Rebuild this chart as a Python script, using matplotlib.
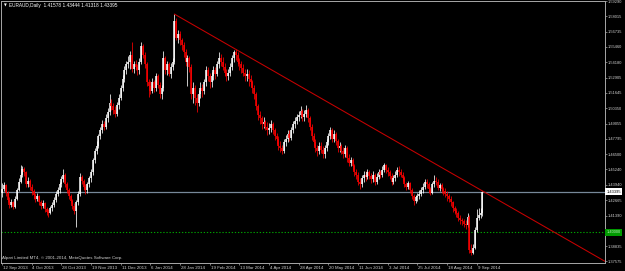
import matplotlib.pyplot as plt
import numpy as np
from matplotlib.transforms import ScaledTranslation

plt.rcParams["font.family"] = ["Liberation Sans Narrow", "Liberation Sans", "DejaVu Sans"]

# Chart header / footer text
symbol_line = "EURAUD,Daily  1.41578 1.43444 1.41318 1.43395"
copyright_line = "Alpari Limited MT4, \u00a9 2001-2014, MetaQuotes Software Corp."

# Time axis labels, one every 16 daily bars
date_labels = [
    "12 Sep 2013", "4 Oct 2013", "28 Oct 2013", "19 Nov 2013", "11 Dec 2013",
    "6 Jan 2014", "28 Jan 2014", "19 Feb 2014", "13 Mar 2014", "4 Apr 2014",
    "28 Apr 2014", "20 May 2014", "11 Jun 2014", "3 Jul 2014", "25 Jul 2014",
    "18 Aug 2014", "9 Sep 2014",
]
bars_per_label = 16

# Price scale labels on the right
price_ticks = [
    1.37575, 1.38835, 1.41390, 1.42665, 1.43940, 1.45240, 1.46500, 1.47795,
    1.49055, 1.50350, 1.51645, 1.52905, 1.54180, 1.55460, 1.56735, 1.58015,
    1.59290,
]

# Daily bars (open of each bar = previous close)
first_open = 1.4330
closes = [
    1.4360, 1.4390, 1.4330, 1.4270, 1.4230, 1.4250, 1.4210, 1.4280, 1.4350, 1.4420,
    1.4480, 1.4530, 1.4500, 1.4400, 1.4430, 1.4380, 1.4340, 1.4310, 1.4280, 1.4300,
    1.4250, 1.4220, 1.4240, 1.4190, 1.4170, 1.4160, 1.4200, 1.4230, 1.4270, 1.4320,
    1.4350, 1.4400, 1.4440, 1.4480, 1.4400, 1.4350, 1.4300, 1.4260, 1.4220, 1.4180,
    1.4250, 1.4320, 1.4460, 1.4430, 1.4380, 1.4350, 1.4400, 1.4450, 1.4500, 1.4600,
    1.4680, 1.4720, 1.4800, 1.4850, 1.4900, 1.4880, 1.4950, 1.5000, 1.5080, 1.5050,
    1.5020, 1.4990, 1.5060, 1.5120, 1.5200, 1.5280, 1.5350, 1.5400, 1.5420, 1.5480,
    1.5360, 1.5400, 1.5380, 1.5350, 1.5420, 1.5550, 1.5480, 1.5400, 1.5250, 1.5220,
    1.5180, 1.5250, 1.5200, 1.5300, 1.5230, 1.5150, 1.5200, 1.5450, 1.5350, 1.5400,
    1.5320, 1.5380, 1.5420, 1.5760, 1.5620, 1.5650, 1.5600, 1.5560, 1.5500, 1.5420,
    1.5450, 1.5380, 1.5150, 1.5200, 1.5120, 1.5080, 1.5150, 1.5200, 1.5180, 1.5250,
    1.5350, 1.5300, 1.5250, 1.5300, 1.5350, 1.5320, 1.5400, 1.5450, 1.5420, 1.5380,
    1.5330, 1.5300, 1.5330, 1.5380, 1.5450, 1.5500, 1.5480, 1.5420, 1.5400, 1.5370,
    1.5330, 1.5300, 1.5320, 1.5280, 1.5250, 1.5200, 1.5150, 1.5050, 1.4980, 1.4950,
    1.4900, 1.4920, 1.4880, 1.4850, 1.4870, 1.4900, 1.4850, 1.4800, 1.4780, 1.4720,
    1.4700, 1.4680, 1.4750, 1.4780, 1.4820, 1.4790, 1.4850, 1.4900, 1.4930, 1.4960,
    1.4980, 1.5010, 1.4960, 1.4990, 1.5020, 1.4950, 1.4880, 1.4800, 1.4750, 1.4700,
    1.4680, 1.4720, 1.4690, 1.4650, 1.4700, 1.4750, 1.4800, 1.4850, 1.4780, 1.4820,
    1.4760, 1.4700, 1.4720, 1.4680, 1.4650, 1.4700, 1.4620, 1.4580, 1.4600, 1.4550,
    1.4500, 1.4480, 1.4420, 1.4400, 1.4450, 1.4480, 1.4460, 1.4500, 1.4470, 1.4440,
    1.4480, 1.4420, 1.4460, 1.4500, 1.4480, 1.4520, 1.4560, 1.4520, 1.4500, 1.4470,
    1.4420, 1.4450, 1.4480, 1.4520, 1.4500, 1.4480, 1.4450, 1.4400, 1.4380, 1.4410,
    1.4350, 1.4300, 1.4260, 1.4290, 1.4300, 1.4320, 1.4350, 1.4380, 1.4420, 1.4400,
    1.4360, 1.4330, 1.4400, 1.4430, 1.4420, 1.4370, 1.4390, 1.4360, 1.4340, 1.4320,
    1.4300, 1.4280, 1.4250, 1.4200, 1.4180, 1.4160, 1.4120, 1.4100, 1.4090, 1.4070,
    1.4060, 1.4130, 1.3850, 1.3830, 1.3870, 1.4020, 1.4120, 1.4140, 1.41578, 1.43395,
]
highs = [
    1.4410, 1.4420, 1.4400, 1.4340, 1.4290, 1.4280, 1.4260, 1.4300, 1.4370, 1.4450,
    1.4560, 1.4550, 1.4540, 1.4510, 1.4460, 1.4440, 1.4400, 1.4360, 1.4330, 1.4330,
    1.4310, 1.4270, 1.4270, 1.4250, 1.4210, 1.4190, 1.4220, 1.4250, 1.4290, 1.4340,
    1.4380, 1.4420, 1.4470, 1.4530, 1.4490, 1.4420, 1.4370, 1.4320, 1.4280, 1.4240,
    1.4270, 1.4340, 1.4490, 1.4480, 1.4440, 1.4400, 1.4420, 1.4470, 1.4530, 1.4620,
    1.4700, 1.4760, 1.4820, 1.4880, 1.4940, 1.4930, 1.4990, 1.5040, 1.5150, 1.5110,
    1.5080, 1.5050, 1.5090, 1.5150, 1.5230, 1.5310, 1.5390, 1.5430, 1.5470, 1.5510,
    1.5590, 1.5430, 1.5440, 1.5400, 1.5450, 1.5590, 1.5570, 1.5500, 1.5420, 1.5280,
    1.5260, 1.5290, 1.5270, 1.5330, 1.5320, 1.5250, 1.5230, 1.5510, 1.5470, 1.5430,
    1.5420, 1.5410, 1.5450, 1.5820, 1.5790, 1.5690, 1.5680, 1.5620, 1.5590, 1.5530,
    1.5480, 1.5470, 1.5400, 1.5250, 1.5230, 1.5150, 1.5190, 1.5250, 1.5240, 1.5280,
    1.5390, 1.5380, 1.5330, 1.5340, 1.5390, 1.5380, 1.5430, 1.5500, 1.5490, 1.5460,
    1.5410, 1.5360, 1.5360, 1.5410, 1.5480, 1.5520, 1.5527, 1.5500, 1.5450, 1.5430,
    1.5400, 1.5360, 1.5360, 1.5350, 1.5310, 1.5270, 1.5230, 1.5170, 1.5070, 1.5010,
    1.4970, 1.4960, 1.4940, 1.4920, 1.4910, 1.4940, 1.4920, 1.4870, 1.4830, 1.4800,
    1.4760, 1.4730, 1.4780, 1.4810, 1.4850, 1.4850, 1.4880, 1.4930, 1.4960, 1.4990,
    1.5010, 1.5050, 1.5030, 1.5020, 1.5060, 1.5040, 1.4970, 1.4900, 1.4830, 1.4780,
    1.4730, 1.4750, 1.4750, 1.4720, 1.4730, 1.4780, 1.4830, 1.4880, 1.4870, 1.4850,
    1.4840, 1.4780, 1.4750, 1.4740, 1.4710, 1.4730, 1.4720, 1.4650, 1.4630, 1.4620,
    1.4570, 1.4530, 1.4500, 1.4450, 1.4480, 1.4510, 1.4510, 1.4530, 1.4520, 1.4490,
    1.4510, 1.4490, 1.4490, 1.4530, 1.4520, 1.4550, 1.4580, 1.4570, 1.4540, 1.4520,
    1.4490, 1.4480, 1.4510, 1.4540, 1.4550, 1.4530, 1.4500, 1.4470, 1.4420, 1.4430,
    1.4420, 1.4370, 1.4320, 1.4310, 1.4330, 1.4350, 1.4380, 1.4410, 1.4440, 1.4440,
    1.4420, 1.4380, 1.4420, 1.4480, 1.4460, 1.4440, 1.4410, 1.4410, 1.4380, 1.4370,
    1.4340, 1.4320, 1.4300, 1.4260, 1.4220, 1.4200, 1.4180, 1.4140, 1.4120, 1.4110,
    1.4100, 1.4160, 1.4140, 1.3900, 1.3900, 1.4040, 1.4190, 1.4200, 1.4200, 1.43444,
]
lows = [
    1.4290, 1.4340, 1.4300, 1.4250, 1.4200, 1.4210, 1.4190, 1.4200, 1.4270, 1.4340,
    1.4410, 1.4460, 1.4470, 1.4380, 1.4380, 1.4350, 1.4310, 1.4280, 1.4250, 1.4260,
    1.4230, 1.4190, 1.4200, 1.4170, 1.4140, 1.4130, 1.4150, 1.4180, 1.4210, 1.4250,
    1.4300, 1.4330, 1.4380, 1.4420, 1.4380, 1.4330, 1.4280, 1.4240, 1.4190, 1.4150,
    1.4040, 1.4230, 1.4300, 1.4400, 1.4350, 1.4320, 1.4330, 1.4380, 1.4420, 1.4480,
    1.4580, 1.4650, 1.4700, 1.4780, 1.4830, 1.4850, 1.4860, 1.4920, 1.4980, 1.5020,
    1.4990, 1.4960, 1.4970, 1.5030, 1.5100, 1.5180, 1.5250, 1.5320, 1.5370, 1.5360,
    1.5340, 1.5330, 1.5350, 1.5310, 1.5320, 1.5400, 1.5450, 1.5370, 1.5220, 1.5127,
    1.5150, 1.5160, 1.5170, 1.5180, 1.5200, 1.5120, 1.5110, 1.5180, 1.5320, 1.5310,
    1.5300, 1.5290, 1.5350, 1.5400, 1.5600, 1.5580, 1.5560, 1.5520, 1.5460, 1.5390,
    1.5220, 1.5340, 1.5110, 1.5080, 1.5060, 1.5000, 1.5050, 1.5120, 1.5130, 1.5150,
    1.5220, 1.5260, 1.5200, 1.5210, 1.5270, 1.5280, 1.5300, 1.5370, 1.5390, 1.5350,
    1.5300, 1.5260, 1.5270, 1.5300, 1.5350, 1.5420, 1.5440, 1.5390, 1.5350, 1.5330,
    1.5300, 1.5260, 1.5260, 1.5220, 1.5210, 1.5160, 1.5110, 1.5020, 1.4940, 1.4900,
    1.4860, 1.4870, 1.4850, 1.4810, 1.4820, 1.4840, 1.4820, 1.4770, 1.4740, 1.4690,
    1.4670, 1.4650, 1.4660, 1.4720, 1.4750, 1.4760, 1.4770, 1.4830, 1.4870, 1.4900,
    1.4930, 1.4950, 1.4930, 1.4930, 1.4960, 1.4920, 1.4850, 1.4770, 1.4720, 1.4670,
    1.4640, 1.4650, 1.4660, 1.4620, 1.4620, 1.4680, 1.4730, 1.4780, 1.4750, 1.4750,
    1.4730, 1.4670, 1.4670, 1.4650, 1.4620, 1.4630, 1.4590, 1.4550, 1.4550, 1.4520,
    1.4470, 1.4440, 1.4390, 1.4360, 1.4380, 1.4420, 1.4430, 1.4440, 1.4440, 1.4410,
    1.4420, 1.4390, 1.4400, 1.4440, 1.4450, 1.4460, 1.4500, 1.4490, 1.4470, 1.4440,
    1.4390, 1.4400, 1.4430, 1.4460, 1.4470, 1.4460, 1.4430, 1.4380, 1.4350, 1.4360,
    1.4330, 1.4280, 1.4227, 1.4240, 1.4260, 1.4280, 1.4300, 1.4330, 1.4360, 1.4370,
    1.4330, 1.4310, 1.4320, 1.4380, 1.4390, 1.4350, 1.4340, 1.4330, 1.4310, 1.4290,
    1.4260, 1.4250, 1.4220, 1.4170, 1.4150, 1.4130, 1.4090, 1.4070, 1.4060, 1.4040,
    1.4030, 1.4040, 1.3830, 1.3808, 1.3815, 1.3860, 1.4000, 1.4100, 1.4120, 1.41318,
]

# Horizontal objects and trendline anchors (bar index, price)
bid_price = 1.43395
level_price = 1.40000
trend_start = (93, 1.5820)
trend_end = (259, 1.43444)

# Colours
bull_color = "#FFFFFF"
bear_color = "#FF0000"
frame_color = "#A8A8A8"
text_color = "#D0D0D0"

closes = np.array(closes)
highs = np.array(highs)
lows = np.array(lows)
opens = np.concatenate([[first_open], closes[:-1]])
assert len(closes) == len(highs) == len(lows)
n = len(closes)
x = np.arange(n)

W, H = 625, 271
fig = plt.figure(figsize=(W / 100, H / 100), dpi=100, facecolor="black")
ax = fig.add_axes([1 / W, 8 / H, 604 / W, 262 / H])
ax.set_facecolor("black")
ax.set_xlim(-0.54, 325.1)
ax.set_ylim(1.37430, 1.59295)

# Candles: wick + body
colors = np.where(closes >= opens, bull_color, bear_color)
ax.vlines(x, lows, highs, colors=colors, lw=0.55, zorder=3)
ax.vlines(x, np.minimum(opens, closes), np.maximum(opens, closes),
          colors=colors, lw=1.1, zorder=3)

# Bid line and horizontal level
ax.axhline(bid_price, color="#778899", lw=0.9, zorder=2)
ax.axhline(level_price, color="#00A000", lw=0.8, ls=(0, (1.2, 1.6)), zorder=2)

# Trendline drawn as a ray to the right edge
slope = (trend_end[1] - trend_start[1]) / (trend_end[0] - trend_start[0])
x_right = ax.get_xlim()[1]
ax.plot([trend_start[0], x_right],
        [trend_start[1], trend_start[1] + slope * (x_right - trend_start[0])],
        color="#C80000", lw=0.75, zorder=4)

# Frame
for side in ["left", "right", "top", "bottom"]:
    ax.spines[side].set_color(frame_color)
    ax.spines[side].set_linewidth(0.7)

# Price scale
ax.yaxis.tick_right()
ax.set_yticks(price_ticks)
ax.set_yticklabels([f"{p:.5f}" for p in price_ticks])
ax.tick_params(axis="y", colors=frame_color, labelcolor=text_color,
               labelsize=2.9, length=1.5, width=0.5, pad=0.7)

# Time scale, labels start just right of the tick
ax.set_xticks(np.arange(len(date_labels)) * bars_per_label)
ax.set_xticklabels(date_labels)
ax.tick_params(axis="x", colors=frame_color, labelcolor=text_color,
               labelsize=3.2, length=1.5, width=0.5, pad=0.6)
shift = ScaledTranslation(0.8 / 100, 0, fig.dpi_scale_trans)
for lab in ax.get_xticklabels():
    lab.set_horizontalalignment("left")
    lab.set_transform(lab.get_transform() + shift)

# Price labels on the scale
ax.text(1.002, bid_price, f"{bid_price:.5f}", transform=ax.get_yaxis_transform(),
        ha="left", va="center", fontsize=2.9, color="black", clip_on=False, zorder=6,
        bbox=dict(boxstyle="square,pad=0.35", fc="white", ec="none"))
ax.text(1.002, level_price, f"{level_price:.5f}", transform=ax.get_yaxis_transform(),
        ha="left", va="center", fontsize=2.9, color="#B8F0B8", clip_on=False, zorder=6,
        bbox=dict(boxstyle="square,pad=0.35", fc="#009A00", ec="none"))

# Header and footer
fig.text(3.5 / W, 1 - 5.5 / H, "\u25bc", fontsize=2.6, color="white",
         va="center", ha="left", family="DejaVu Sans")
fig.text(9 / W, 1 - 5.5 / H, symbol_line, fontsize=3.4, color="white",
         va="center", ha="left")
fig.text(2.5 / W, 1 - 258.5 / H, copyright_line, fontsize=3.2, color=text_color,
         va="center", ha="left")

fig.savefig("out.png", dpi=100, facecolor="black")
